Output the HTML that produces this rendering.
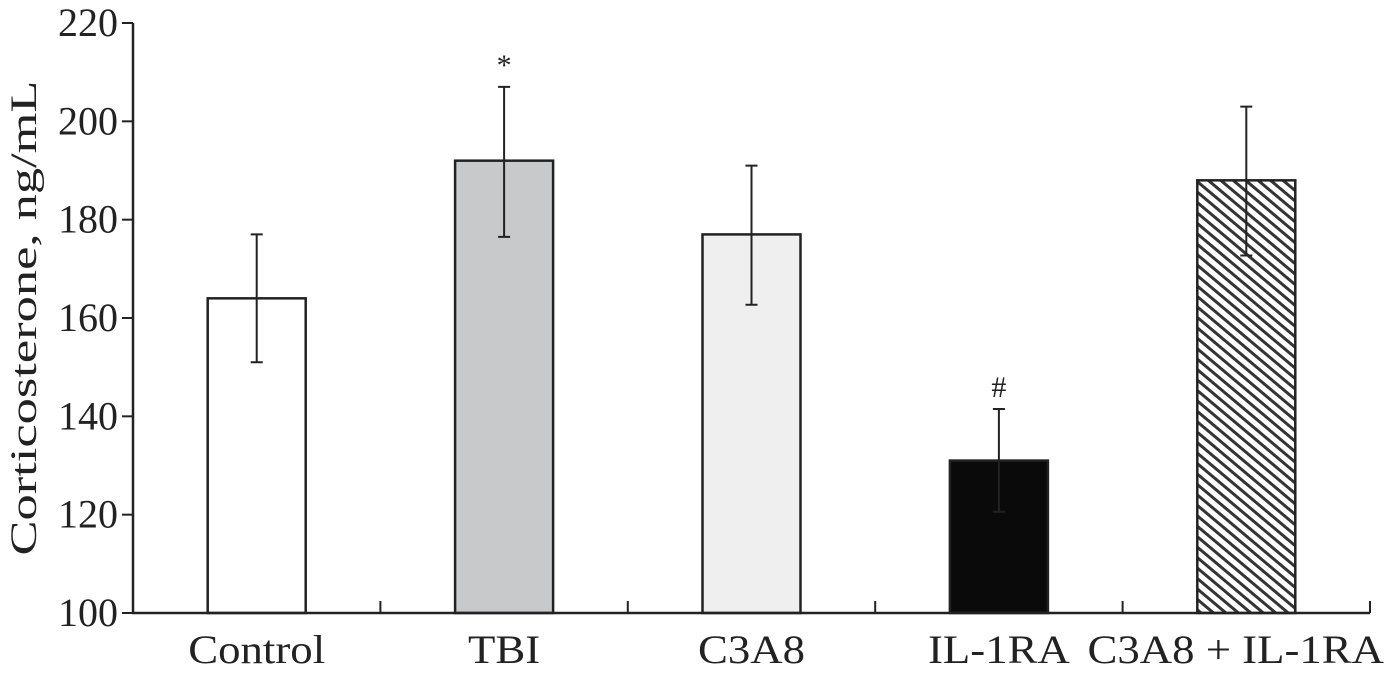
<!DOCTYPE html>
<html><head><meta charset="utf-8"><style>
html,body{margin:0;padding:0;background:#fff;}
svg{display:block;font-family:"Liberation Serif",serif;}
</style></head><body>
<svg id="chart" width="1386" height="673" viewBox="0 0 1386 673">
<defs>
<pattern id="hatch" width="8" height="8" patternUnits="userSpaceOnUse" patternTransform="rotate(40)">
<rect width="8" height="8" fill="#fff"/>
<rect x="0" y="0" width="8" height="3" fill="#111" opacity="0.85"/>
</pattern>
</defs>
<g id="plot"></g>
</svg>
<script>
const categories = ["Control","TBI","C3A8","IL-1RA","C3A8 + IL-1RA"];
const values = [164,192,177,131,188];
const errLow = [151,176.5,162.7,120.6,172.7];
const errHigh = [177,207,191,141.5,203];
const fills = ["#fff","#c8c9cb","#efefef","#0a0a0a","url(#hatch)"];
const marks = ["","*","","#",""];
const yTicks = [100,120,140,160,180,200,220];

const X0=133, X1=1370, Y0=613, Y1=23, YMIN=100, YMAX=220;
const bw=(X1-X0)/categories.length, barW=98;
const y=v=>Y0-(v-YMIN)/(YMAX-YMIN)*(Y0-Y1);
const xc=i=>X0+bw*(i+0.5);
const g=document.getElementById('plot');
const NS="http://www.w3.org/2000/svg";
function el(t,a,txt){const e=document.createElementNS(NS,t);for(const k in a)e.setAttribute(k,a[k]);if(txt!=null)e.textContent=txt;g.appendChild(e);return e;}

categories.forEach((c,i)=>{
  const b=el('rect',{x:xc(i)-barW/2,y:y(values[i]),width:barW,height:Y0-y(values[i]),fill:fills[i],stroke:"#222","stroke-width":2.5});
  
  
  const e=el('path',{d:`M${xc(i)},${y(errLow[i])}V${y(errHigh[i])}M${xc(i)-6},${y(errLow[i])}H${xc(i)+6}M${xc(i)-6},${y(errHigh[i])}H${xc(i)+6}`,stroke:"#222","stroke-width":2,fill:"none"});
  
  
  if(marks[i]){const m=el('text',{x:xc(i),y:y(errHigh[i])-12,"text-anchor":"middle","font-size":30,fill:"#222"},marks[i]);
    
    }
  const last=i===categories.length-1;
  const l=el('text',{x:last?1384:xc(i),y:663,"text-anchor":last?"end":"middle","font-size":40,fill:"#222"},c);
  
  
  const w=l.getComputedTextLength();
  l.setAttribute('lengthAdjust','spacingAndGlyphs');
  l.setAttribute('textLength',Math.min(w*1.12,314).toFixed(1));
  const t=el('line',{x1:X0+bw*(i+1),x2:X0+bw*(i+1),y1:Y0,y2:Y0-12,stroke:"#222","stroke-width":2});
  
  
});
yTicks.forEach(v=>{
  const t=el('line',{x1:X0-11,x2:X0,y1:y(v),y2:y(v),stroke:"#222","stroke-width":2});
  
  
  const l=el('text',{x:X0-15,y:y(v)+13,"text-anchor":"end","font-size":40,fill:"#222"},v);
  
  
});
const ax=el('path',{d:`M${X0},${Y1}V${Y0}H${X1}`,stroke:"#222","stroke-width":2.5,fill:"none"});


const yt=el('text',{x:0,y:0,transform:"translate(36,318) rotate(-90)","text-anchor":"middle","font-size":37,fill:"#222",textLength:475,lengthAdjust:"spacingAndGlyphs"},"Corticosterone, ng/mL");


</script>
</body></html>
